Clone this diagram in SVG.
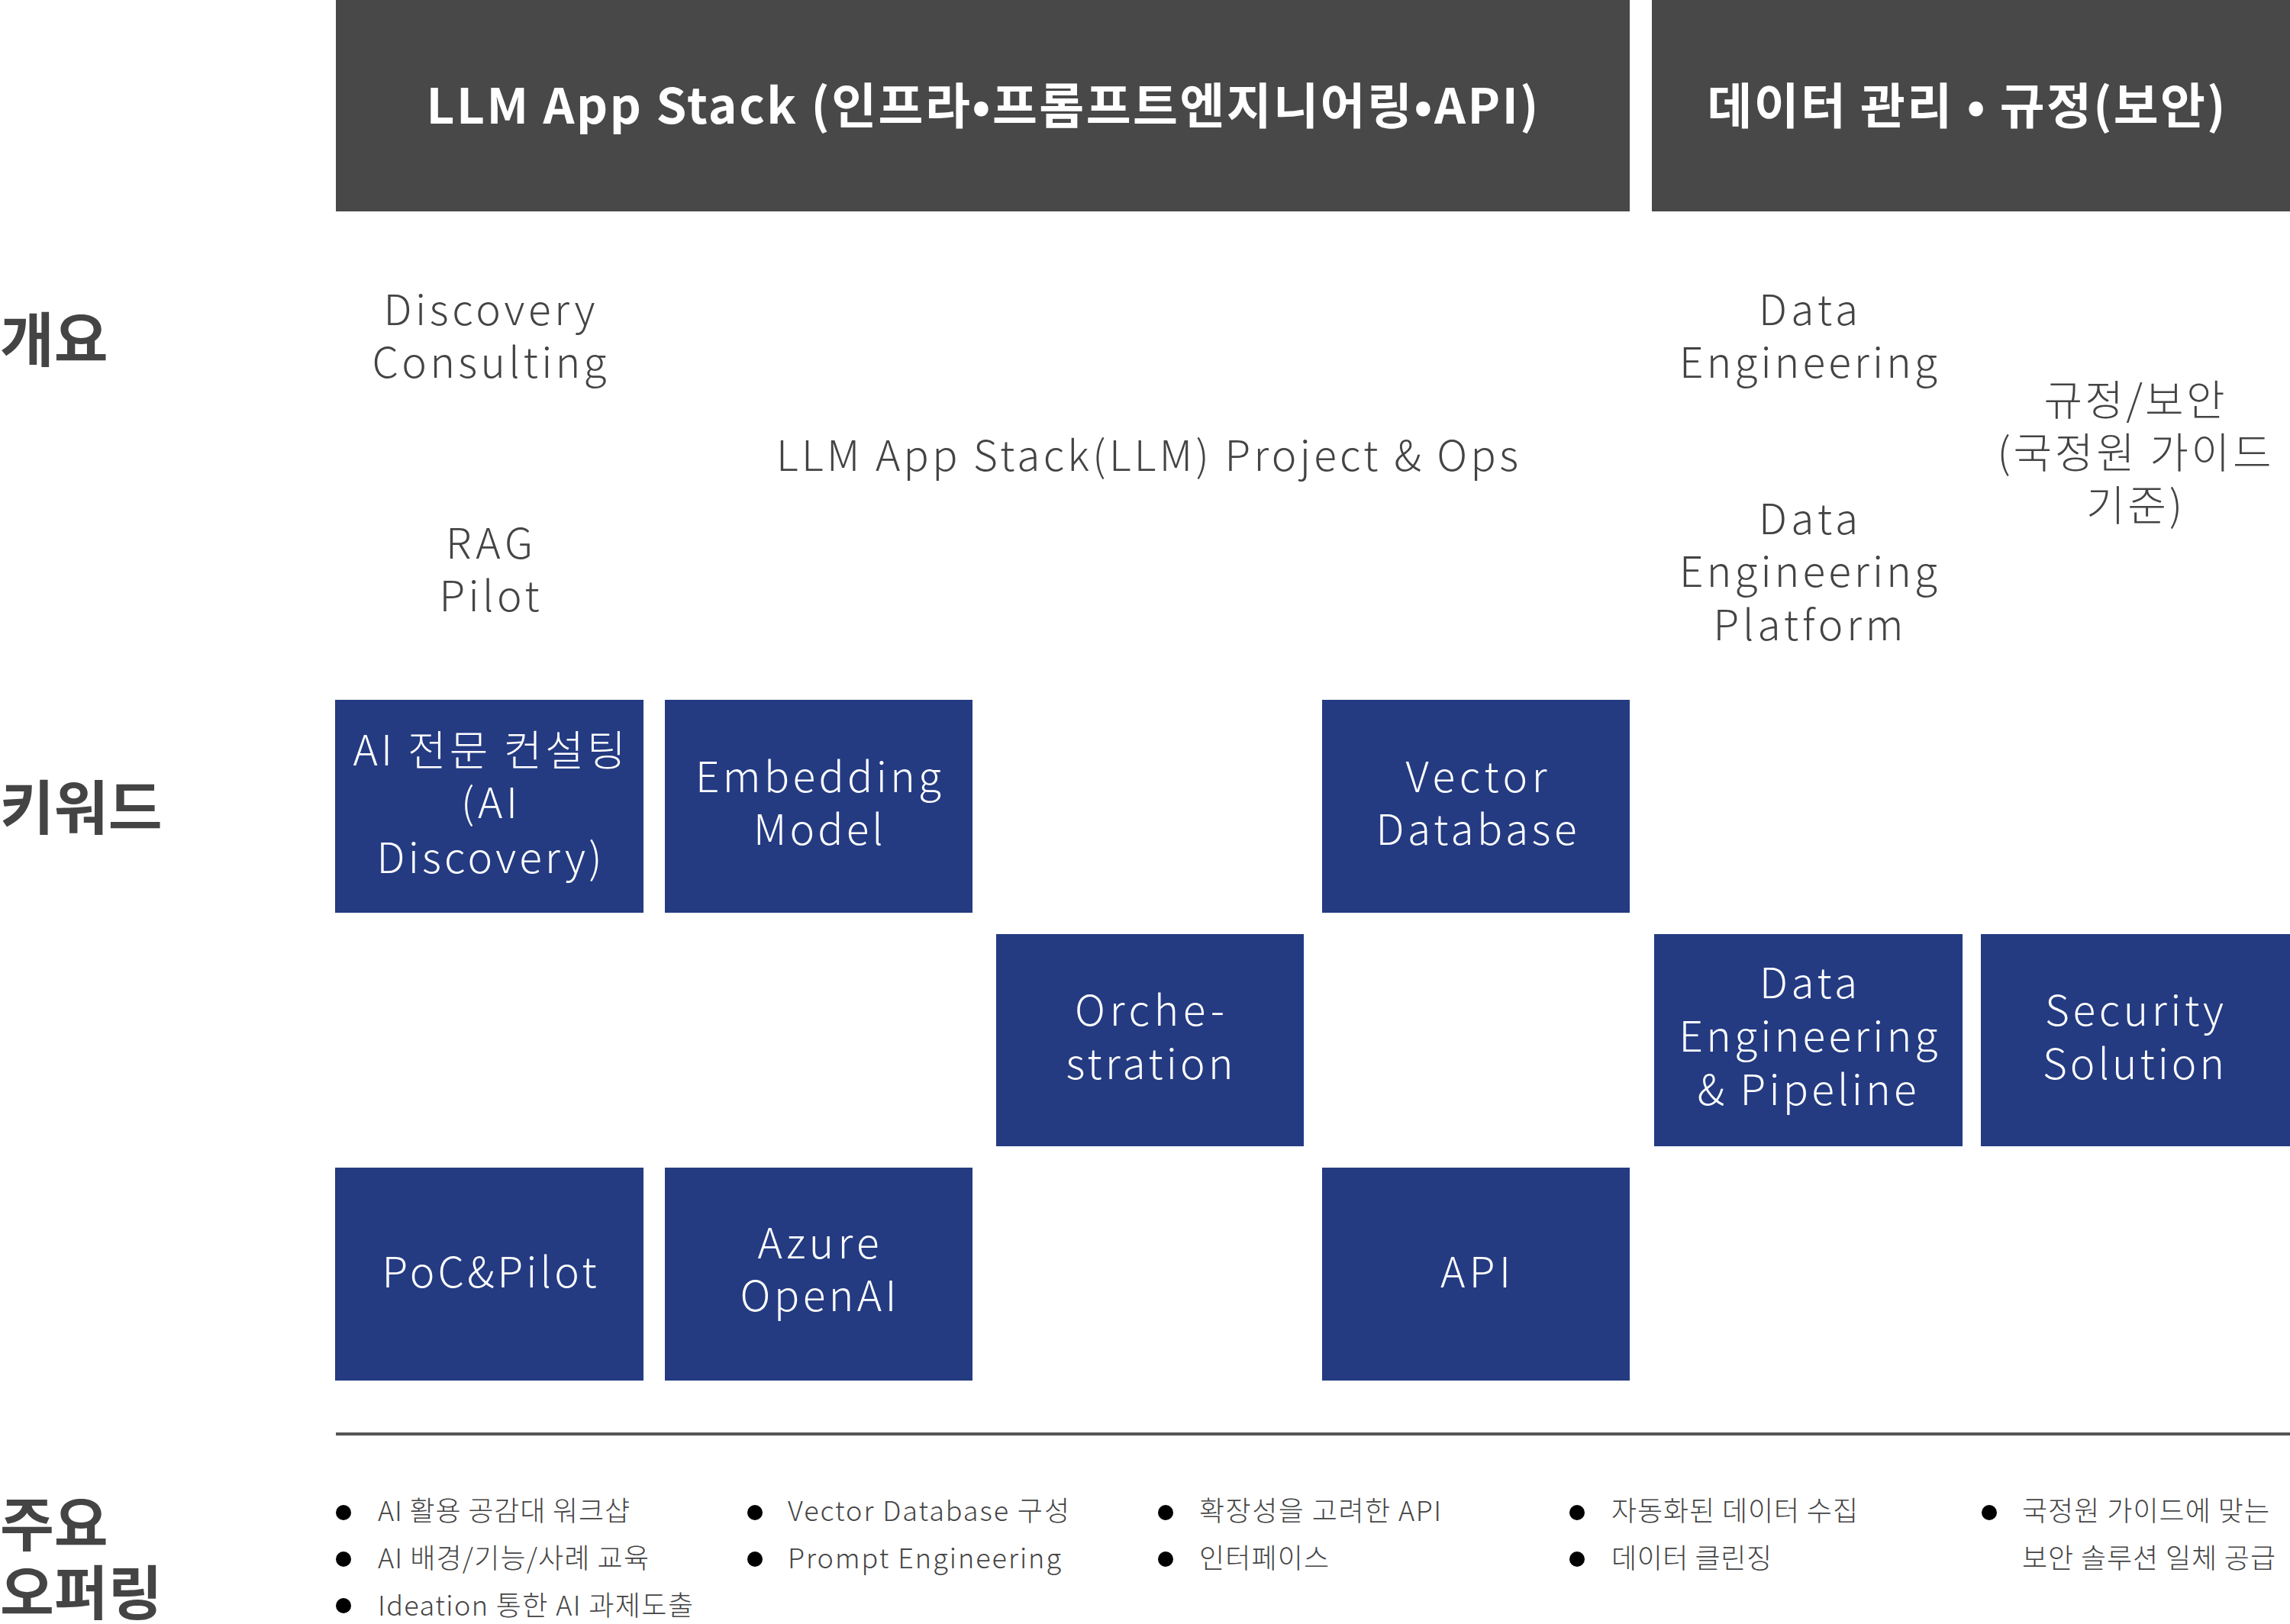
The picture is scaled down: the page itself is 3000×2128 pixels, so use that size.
<svg xmlns="http://www.w3.org/2000/svg" width="3000" height="2128" viewBox="0 0 3000 2128">
<style>
text{font-family:"Noto Sans CJK KR","Noto Sans CJK SC","Noto Sans",sans-serif;}
.hdr{fill:#484848;}
.ht{fill:#ffffff;font-size:64px;font-weight:700;text-anchor:middle;}
.row{fill:#444444;font-size:77px;font-weight:700;}
.ov{fill:#444444;font-size:55px;font-weight:300;text-anchor:middle;}
.box{fill:#243b82;}
.bt{fill:#ffffff;font-size:55px;font-weight:300;text-anchor:middle;}
.bl{fill:#444444;font-size:36px;font-weight:300;}
.dot{fill:#000000;}
</style>
<rect width="3000" height="2128" fill="#ffffff"/>

<g id="header-llm">
<rect class="hdr" x="440" y="0" width="1695" height="277"/>
<text class="ht" x="1287" y="162" textLength="1457" lengthAdjust="spacing">LLM App Stack (인프라•프롬프트엔지니어링•API)</text>
</g>
<g id="header-data">
<rect class="hdr" x="2164" y="0" width="836" height="277"/>
<text class="ht" x="2576" y="162" textLength="679" lengthAdjust="spacing">데이터 관리 • 규정(보안)</text>
</g>

<g id="label-overview"><text class="row" x="0" y="474">개요</text></g>
<g id="label-keyword"><text class="row" x="0" y="1087">키워드</text></g>
<g id="label-offering"><text class="row"><tspan x="0" y="2026">주요</tspan><tspan x="0" y="2116">오퍼링</tspan></text></g>

<g id="ov-discovery">
<text class="ov"><tspan x="641" y="426" textLength="277" lengthAdjust="spacing">Discovery</tspan><tspan x="641" y="495" textLength="307" lengthAdjust="spacing">Consulting</tspan></text>
</g>
<g id="ov-rag">
<text class="ov"><tspan x="641" y="732" textLength="114" lengthAdjust="spacing">RAG</tspan><tspan x="641" y="801" textLength="131" lengthAdjust="spacing">Pilot</tspan></text>
</g>
<g id="ov-llmops">
<text class="ov" x="1503" y="617" textLength="972" lengthAdjust="spacing">LLM App Stack(LLM) Project &amp; Ops</text>
</g>
<g id="ov-de">
<text class="ov"><tspan x="2369" y="426" textLength="130" lengthAdjust="spacing">Data</tspan><tspan x="2369" y="495" textLength="338" lengthAdjust="spacing">Engineering</tspan></text>
</g>
<g id="ov-dep">
<text class="ov"><tspan x="2369" y="700" textLength="130" lengthAdjust="spacing">Data</tspan><tspan x="2369" y="769" textLength="338" lengthAdjust="spacing">Engineering</tspan><tspan x="2369" y="839" textLength="249" lengthAdjust="spacing">Platform</tspan></text>
</g>
<g id="ov-security">
<text class="ov"><tspan x="2796" y="544" textLength="237" lengthAdjust="spacing">규정/보안</tspan><tspan x="2796" y="613" textLength="359" lengthAdjust="spacing">(국정원 가이드</tspan><tspan x="2796" y="682" textLength="126" lengthAdjust="spacing">기준)</tspan></text>
</g>

<g id="box-ai-consulting">
<rect class="box" x="439" y="917" width="404" height="279"/>
<text class="bt"><tspan x="641" y="1003" textLength="357" lengthAdjust="spacing">AI 전문 컨설팅</tspan><tspan x="641" y="1072" textLength="74" lengthAdjust="spacing">(AI</tspan><tspan x="641" y="1144" textLength="295" lengthAdjust="spacing">Discovery)</tspan></text>
</g>
<g id="box-embedding">
<rect class="box" x="871" y="917" width="403" height="279"/>
<text class="bt"><tspan x="1072" y="1038" textLength="322" lengthAdjust="spacing">Embedding</tspan><tspan x="1072" y="1107" textLength="170" lengthAdjust="spacing">Model</tspan></text>
</g>
<g id="box-vector">
<rect class="box" x="1732" y="917" width="403" height="279"/>
<text class="bt"><tspan x="1934" y="1038" textLength="185" lengthAdjust="spacing">Vector</tspan><tspan x="1934" y="1107" textLength="263" lengthAdjust="spacing">Database</tspan></text>
</g>
<g id="box-orchestration">
<rect class="box" x="1305" y="1224" width="403" height="278"/>
<text class="bt"><tspan x="1506" y="1344" textLength="196" lengthAdjust="spacing">Orche-</tspan><tspan x="1506" y="1414" textLength="219" lengthAdjust="spacing">stration</tspan></text>
</g>
<g id="box-de-pipeline">
<rect class="box" x="2167" y="1224" width="404" height="278"/>
<text class="bt"><tspan x="2369" y="1308" textLength="128" lengthAdjust="spacing">Data</tspan><tspan x="2369" y="1378" textLength="339" lengthAdjust="spacing">Engineering</tspan><tspan x="2367" y="1448" textLength="287" lengthAdjust="spacing">&amp; Pipeline</tspan></text>
</g>
<g id="box-security">
<rect class="box" x="2595" y="1224" width="405" height="278"/>
<text class="bt"><tspan x="2796" y="1344" textLength="234" lengthAdjust="spacing">Security</tspan><tspan x="2795" y="1414" textLength="238" lengthAdjust="spacing">Solution</tspan></text>
</g>
<g id="box-poc">
<rect class="box" x="439" y="1530" width="404" height="279"/>
<text class="bt" x="641" y="1687" textLength="281" lengthAdjust="spacing">PoC&amp;Pilot</text>
</g>
<g id="box-azure">
<rect class="box" x="871" y="1530" width="403" height="279"/>
<text class="bt"><tspan x="1072" y="1649" textLength="159" lengthAdjust="spacing">Azure</tspan><tspan x="1072" y="1718" textLength="205" lengthAdjust="spacing">OpenAI</tspan></text>
</g>
<g id="box-api">
<rect class="box" x="1732" y="1530" width="403" height="279"/>
<text class="bt" x="1933" y="1687" textLength="92" lengthAdjust="spacing">API</text>
</g>

<g id="connectors">
<line x1="440" y1="1879" x2="3000" y2="1879" stroke="#555555" stroke-width="4"/>
</g>

<g id="offer-discovery">
<circle class="dot" cx="450" cy="1982" r="10"/>
<circle class="dot" cx="450" cy="2043" r="10"/>
<circle class="dot" cx="450" cy="2104" r="10"/>
<text class="bl"><tspan x="495" y="1993" textLength="330" lengthAdjust="spacing">AI 활용 공감대 워크샵</tspan><tspan x="495" y="2055" textLength="355" lengthAdjust="spacing">AI 배경/기능/사례 교육</tspan><tspan x="495" y="2117" textLength="413" lengthAdjust="spacing">Ideation 통한 AI 과제도출</tspan></text>
</g>
<g id="offer-vector">
<circle class="dot" cx="989" cy="1982" r="10"/>
<circle class="dot" cx="989" cy="2043" r="10"/>
<text class="bl"><tspan x="1032" y="1993" textLength="369" lengthAdjust="spacing">Vector Database 구성</tspan><tspan x="1032" y="2055" textLength="358" lengthAdjust="spacing">Prompt Engineering</tspan></text>
</g>
<g id="offer-api">
<circle class="dot" cx="1527" cy="1982" r="10"/>
<circle class="dot" cx="1527" cy="2043" r="10"/>
<text class="bl"><tspan x="1571" y="1993" textLength="317" lengthAdjust="spacing">확장성을 고려한 API</tspan><tspan x="1571" y="2055" textLength="170" lengthAdjust="spacing">인터페이스</tspan></text>
</g>
<g id="offer-data">
<circle class="dot" cx="2066" cy="1982" r="10"/>
<circle class="dot" cx="2066" cy="2043" r="10"/>
<text class="bl"><tspan x="2111" y="1993" textLength="323" lengthAdjust="spacing">자동화된 데이터 수집</tspan><tspan x="2111" y="2055" textLength="210" lengthAdjust="spacing">데이터 클린징</tspan></text>
</g>
<g id="offer-security">
<circle class="dot" cx="2606" cy="1982" r="10"/>
<text class="bl"><tspan x="2649" y="1993" textLength="324" lengthAdjust="spacing">국정원 가이드에 맞는</tspan><tspan x="2649" y="2055" textLength="332" lengthAdjust="spacing">보안 솔루션 일체 공급</tspan></text>
</g>
</svg>
